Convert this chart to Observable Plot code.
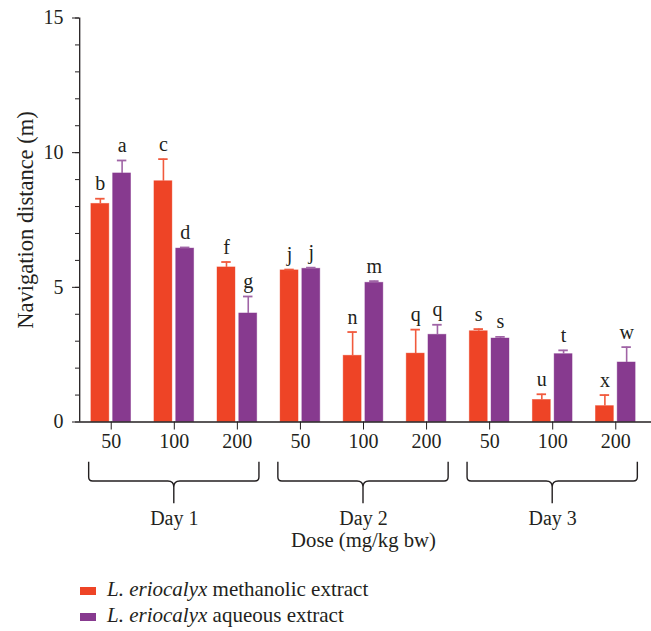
<!DOCTYPE html>
<html>
<head>
<meta charset="utf-8">
<script src="https://cdn.jsdelivr.net/npm/d3@7"></script>
<script src="https://cdn.jsdelivr.net/npm/@observablehq/plot@0.6"></script>
<style>
  body { margin: 0; background: #fff; position: relative; width: 651px; height: 631px; overflow: hidden; }
  #chart { position: absolute; left: 0; top: 0; }
  .leg { position: absolute; font-family: 'Liberation Serif', 'Times New Roman', serif; font-size: 21px; line-height: 25.7px; color: #231f20; white-space: nowrap; }
  .sw { position: absolute; width: 16px; height: 8px; }
</style>
</head>
<body>
<div id="chart"></div>
<div id="legend"></div>
<script>
// ---- data ----
const days = ["Day 1", "Day 2", "Day 3"];
const doses = ["50", "100", "200"];
const seriesNames = ["methanolic extract", "aqueous extract"];
const seriesColors = ["#EE4426", "#873A8F"];
const errorColors = ["#F15A3D", "#A064A6"];
const methanolMean = [8.10, 8.94, 5.74, 5.63, 2.46, 2.54, 3.37, 0.82, 0.59];
const methanolSD   = [0.19, 0.82, 0.20, 0.03, 0.88, 0.89, 0.08, 0.21, 0.41];
const aqueousMean  = [9.23, 6.44, 4.03, 5.69, 5.17, 3.24, 3.10, 2.52, 2.21];
const aqueousSD    = [0.48, 0.04, 0.63, 0.04, 0.06, 0.37, 0.06, 0.14, 0.57];
const methanolLetters = ["b", "c", "f", "j", "n", "q", "s", "u", "x"];
const aqueousLetters  = ["a", "d", "g", "j", "m", "q", "s", "t", "w"];
const yTicks = [0, 5, 10, 15];
const yLabel = "Navigation distance (m)";
const xLabel = "Dose (mg/kg bw)";

(function () {
// ---- build table ----
const groups = days.flatMap((day, di) => doses.map((dose, k) => ({i: di * doses.length + k, day, dose})));
const rows = [];
groups.forEach(g => {
  rows.push({i: g.i, s: 0, mean: methanolMean[g.i], sd: methanolSD[g.i], letter: methanolLetters[g.i]});
  rows.push({i: g.i, s: 1, mean: aqueousMean[g.i], sd: aqueousSD[g.i], letter: aqueousLetters[g.i]});
});
const dayRows = days.map((day, di) => ({day, first: di * doses.length, last: di * doses.length + doses.length - 1, mid: di * doses.length + (doses.length - 1) / 2}));

const inner = 0.03, outer = 0.315, capHalf = 0.075;
const barLeft = d => d.s === 0 ? d.i - outer : d.i + inner;
const barRight = d => d.s === 0 ? d.i - inner : d.i + outer;
const barCenter = d => (barLeft(d) + barRight(d)) / 2;
const barTop = d => d.mean + d.sd;
const ink = "#231f20";

function braces(index, scales, values, dims) {
  const x = scales.x;
  const yb = dims.height - dims.marginBottom;
  const yT = yb + 40.2, yH = yb + 59.5, yB = yb + 81.8, r = 4, r2 = 6;
  const g = d3.create("svg:g").attr("fill", "none").attr("stroke", ink).attr("stroke-width", 1.4);
  dayRows.forEach(d => {
    const x0 = x(d.first - 0.35), x1 = x(d.last + 0.35), xm = x(d.mid);
    const p = `M${x0},${yT}L${x0},${yH - r}Q${x0},${yH} ${x0 + r},${yH}L${xm - r2},${yH}Q${xm},${yH} ${xm},${yH + r2}L${xm},${yB}` +
              `M${x1},${yT}L${x1},${yH - r}Q${x1},${yH} ${x1 - r},${yH}L${xm + r2},${yH}Q${xm},${yH} ${xm},${yH + r2}`;
    g.append("path").attr("d", p);
  });
  return g.node();
}

const plot = Plot.plot({
  width: 651,
  height: 565,
  marginLeft: 79,
  marginRight: 0,
  marginTop: 17.5,
  marginBottom: 143.5,
  x: {domain: [-0.5, groups.length - 0.5], range: [79.2, 646.8]},
  y: {domain: [0, 15], range: [421.5, 17.5]},
  style: {fontFamily: "'Liberation Serif', 'Times New Roman', serif", fontSize: "20px", color: ink, background: "white", overflow: "visible"},
  marks: [
    Plot.rect(rows, {x1: barLeft, x2: barRight, y1: 0, y2: "mean", fill: d => seriesColors[d.s], stroke: d => seriesColors[d.s], strokeOpacity: 0.5, strokeWidth: 0.8}),
    Plot.ruleX(rows, {x: barCenter, y1: "mean", y2: barTop, stroke: d => errorColors[d.s], strokeWidth: 1.6}),
    Plot.ruleY(rows, {y: barTop, x1: d => barCenter(d) - capHalf, x2: d => barCenter(d) + capHalf, stroke: d => errorColors[d.s], strokeWidth: 1.8}),
    Plot.text(rows, {x: barCenter, y: barTop, text: "letter", dy: -14.8, fill: ink}),
    Plot.ruleY([0], {stroke: ink, strokeWidth: 1.3}),
    Plot.ruleX([-0.5], {y1: 0, y2: 15, stroke: ink, strokeWidth: 1.3}),
    Plot.axisY({ticks: yTicks, tickSize: 7, tickPadding: 9, label: null, stroke: ink, strokeOpacity: 1, fill: ink}),
    Plot.axisY({ticks: d3.range(0, 16), tickSize: 4, tickFormat: () => "", label: null, stroke: ink, strokeOpacity: 1}),
    Plot.axisX({ticks: groups.map(g => g.i), tickFormat: i => groups[i].dose, tickSize: 8, tickPadding: 4, label: null, stroke: ink, strokeOpacity: 1, fill: ink}),
    braces,
    Plot.text(dayRows, {x: "mid", text: "day", frameAnchor: "bottom", dy: 103, fill: ink}),
    Plot.text([xLabel], {x: (groups.length - 1) / 2, text: d => d, frameAnchor: "bottom", dy: 125.4, fontSize: 20.7, fill: ink}),
    Plot.text([yLabel], {text: d => d, frameAnchor: "left", textAnchor: "middle", rotate: -90, dx: -54, fontSize: 22.5, fill: ink})
  ]
});
document.getElementById("chart").append(plot);

// legend below the svg
const legend = document.getElementById("legend");
seriesNames.forEach((name, k) => {
  const baseline = 597 + k * 25.7;
  const sw = document.createElement("div");
  sw.className = "sw";
  sw.style.left = "80px";
  sw.style.top = (baseline - 10) + "px";
  sw.style.background = seriesColors[k];
  legend.append(sw);
  const t = document.createElement("div");
  t.className = "leg";
  t.style.left = "107px";
  t.style.top = (baseline - 20.2) + "px";
  const em = document.createElement("i");
  em.textContent = "L. eriocalyx";
  t.append(em, document.createTextNode(" " + name));
  legend.append(t);
});
})();
</script>
</body>
</html>
